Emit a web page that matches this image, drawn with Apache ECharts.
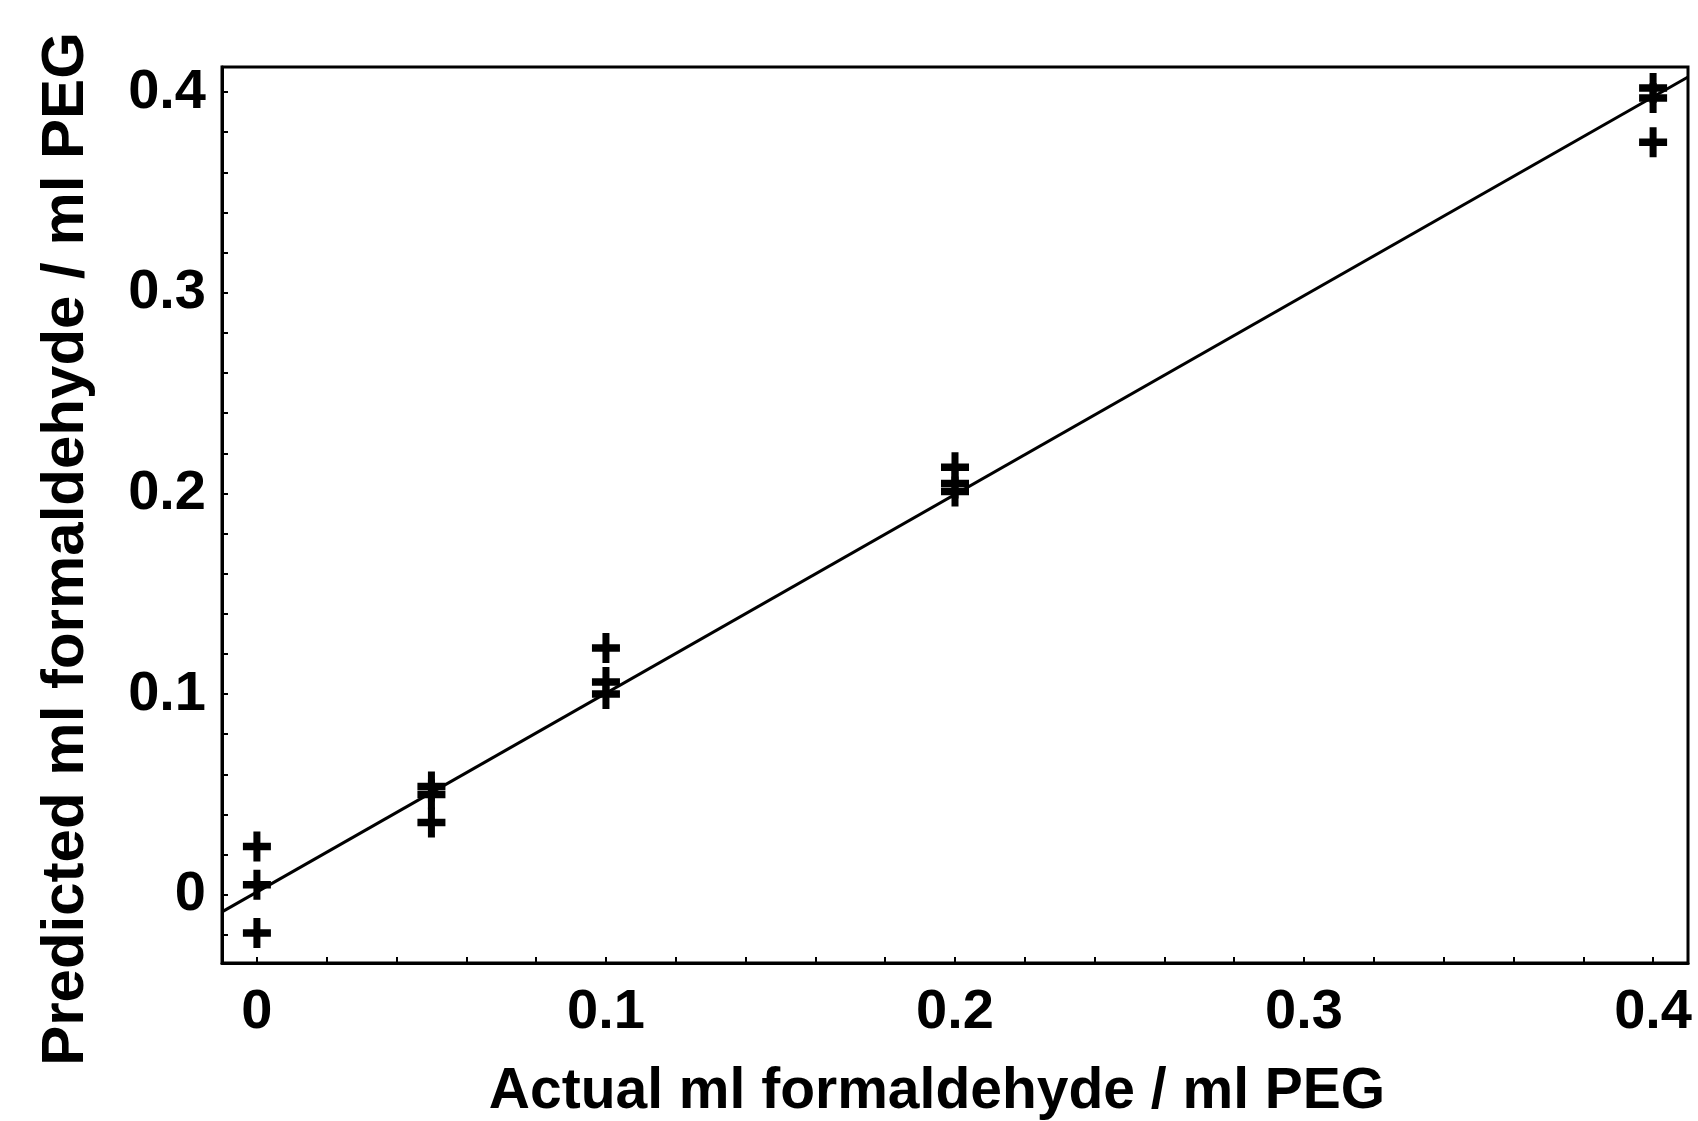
<!DOCTYPE html>
<html>
<head>
<meta charset="utf-8">
<script src="https://cdn.jsdelivr.net/npm/echarts@6/dist/echarts.min.js"></script>
<style>
html,body{margin:0;padding:0;background:#fff;}
#c{width:1698px;height:1121px;}
</style>
</head>
<body>
<div id="c"></div>
<script>
// Data
var actualX = [0, 0, 0, 0.05, 0.05, 0.05, 0.1, 0.1, 0.1, 0.2, 0.2, 0.2, 0.4, 0.4, 0.4];
var predictedY = [0.024, 0.005, -0.019, 0.054, 0.050, 0.036, 0.123, 0.106, 0.100, 0.213, 0.205, 0.201, 0.402, 0.397, 0.375];
var fitX = [-0.01, 0.41];
var fitY = [-0.0085, 0.4075];
var xTickLabels = [0, 0.1, 0.2, 0.3, 0.4];
var yTickLabels = [0, 0.1, 0.2, 0.3, 0.4];
var minorTicksX = [0, 0.02, 0.04, 0.06, 0.08, 0.1, 0.12, 0.14, 0.16, 0.18, 0.2, 0.22, 0.24, 0.26, 0.28, 0.3, 0.32, 0.34, 0.36, 0.38, 0.4];
var minorTicksY = [-0.02, 0, 0.02, 0.04, 0.06, 0.08, 0.1, 0.12, 0.14, 0.16, 0.18, 0.2, 0.22, 0.24, 0.26, 0.28, 0.3, 0.32, 0.34, 0.36, 0.38, 0.4];
var xTitle = 'Actual ml formaldehyde / ml PEG';
var yTitle = 'Predicted ml formaldehyde / ml PEG';

var pts = actualX.map(function (x, i) { return [x, predictedY[i]]; });
var fit = fitX.map(function (x, i) { return [x, fitY[i]]; });
var FONT = '"Liberation Sans", Arial, sans-serif';
function fmt(v) { return v === 0 ? '0' : String(+v.toFixed(2)); }

var chart = echarts.init(document.getElementById('c'), null, { renderer: 'canvas' });
chart.setOption({
  backgroundColor: '#fff',
  animation: false,
  grid: { left: 222, top: 67, right: 10, bottom: 158, show: true, borderColor: '#000', borderWidth: 3, backgroundColor: 'transparent' },
  xAxis: {
    type: 'value', min: -0.01, max: 0.41,
    splitLine: { show: false },
    axisLine: { show: true, onZero: false, lineStyle: { color: '#000', width: 3 } },
    axisTick: { show: true, inside: true, length: 6, customValues: minorTicksX, lineStyle: { color: '#000', width: 2 } },
    axisLabel: { customValues: xTickLabels, formatter: fmt, color: '#000', fontFamily: FONT, fontWeight: 'bold', fontSize: 56, margin: 22 }
  },
  yAxis: {
    type: 'value', min: -0.034, max: 0.4125,
    splitLine: { show: false },
    axisLine: { show: true, onZero: false, lineStyle: { color: '#000', width: 3 } },
    axisTick: { show: true, inside: true, length: 6, customValues: minorTicksY, lineStyle: { color: '#000', width: 2 } },
    axisLabel: { customValues: yTickLabels, formatter: fmt, color: '#000', fontFamily: FONT, fontWeight: 'bold', fontSize: 56, margin: 16 }
  },
  graphic: [
    { type: 'text', x: 937, y: 1092, style: { text: xTitle, fill: '#000', font: 'bold 57px ' + FONT, textAlign: 'center', textVerticalAlign: 'middle' } },
    { type: 'text', x: 66, y: 549, rotation: Math.PI / 2, style: { text: yTitle, fill: '#000', font: 'bold 60px ' + FONT, textAlign: 'center', textVerticalAlign: 'middle' } }
  ],
  series: [
    { type: 'line', data: fit, symbol: 'none', lineStyle: { color: '#000', width: 3 }, silent: true, z: 2 },
    { type: 'scatter', data: pts, symbol: 'path://M3,0h2v3h3v2h-3v3h-2v-3h-3v-2h3z', symbolSize: [28, 30], itemStyle: { color: '#000', opacity: 1 }, z: 3 }
  ]
});
</script>
</body>
</html>
